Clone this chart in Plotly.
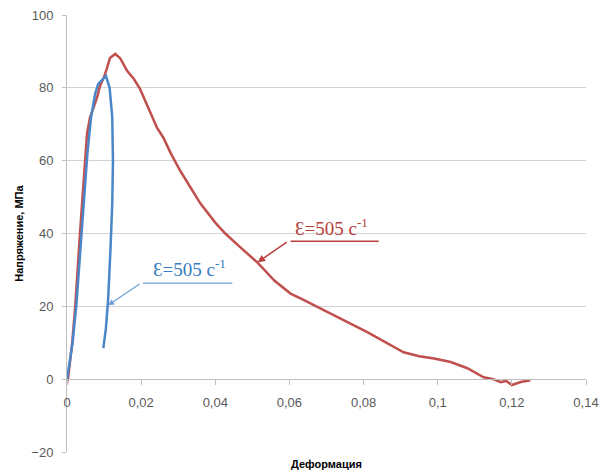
import plotly.graph_objects as go

# Red curve (strain, stress MPa)
red_x = [0, 0.0003, 0.0014, 0.0022, 0.0035, 0.0043, 0.0054, 0.0062, 0.0081, 0.0089, 0.0100,
         0.0108, 0.0116, 0.0130, 0.0143, 0.0162, 0.0180, 0.0197, 0.0220, 0.0243, 0.0260,
         0.0280, 0.0305, 0.0350, 0.0360, 0.0400, 0.0427, 0.0470, 0.0514, 0.0560, 0.0603,
         0.0630, 0.0692, 0.0746, 0.0810, 0.0865, 0.0908, 0.0950, 0.0990, 0.1035, 0.1080,
         0.1124, 0.1150, 0.1170, 0.1185, 0.1200, 0.1224, 0.1250]
red_y = [-1, 0.3, 9.9, 19.7, 40, 52.6, 67.4, 71.8, 77.3, 80.5, 83,
         85.5, 88.2, 89.3, 88.2, 84.7, 82.5, 79.7, 74.5, 69, 66.3,
         62, 57.3, 49.9, 48.2, 43, 40, 36, 32, 27, 23.5,
         22.2, 18.9, 16.2, 12.9, 9.9, 7.4, 6.3, 5.7, 4.7, 3,
         0.5, 0, -0.8, -0.5, -1.6, -0.8, -0.3]

# Blue curve
blue_x = [0, 0.0015, 0.0025, 0.0035, 0.0045, 0.0055, 0.0065, 0.0076, 0.0084, 0.0097, 0.0105,
          0.0115, 0.0122, 0.0124, 0.0122, 0.0117, 0.0111, 0.0105, 0.0098]
blue_y = [0, 10, 20, 35, 50, 62, 72, 78.4, 81, 82.5, 83.3,
          80, 72, 60, 48, 35, 22, 14, 8.5]

x_ticks = [0, 0.02, 0.04, 0.06, 0.08, 0.1, 0.12, 0.14]
x_tick_text = ["0", "0,02", "0,04", "0,06", "0,08", "0,1", "0,12", "0,14"]
y_ticks = [-20, 0, 20, 40, 60, 80, 100]

label_text = "Ɛ=505 с<sup>-1</sup>"
x_title = "Деформация"
y_title = "Напряжение, МПа"

RED = "#C0504D"
BLUE = "#4A86C8"
GRID = "#D3D3D3"
AXIS = "#BFBFBF"

fig = go.Figure()
fig.add_trace(go.Scatter(x=red_x, y=red_y, mode="lines",
                         line=dict(color=RED, width=2.5), showlegend=False))
fig.add_trace(go.Scatter(x=blue_x, y=blue_y, mode="lines",
                         line=dict(color=BLUE, width=2.5), showlegend=False))

fig.update_layout(
    width=611, height=472,
    margin=dict(l=67, r=25, t=15, b=20, autoexpand=False),
    paper_bgcolor="white", plot_bgcolor="white",
    font=dict(family="Liberation Sans, Arial, sans-serif", color="#595959", size=13),
    xaxis=dict(range=[0, 0.14], tickvals=x_ticks, ticktext=x_tick_text,
               showgrid=False, zeroline=False, showline=True, linecolor=AXIS, linewidth=1,
               ticks="outside", ticklen=5, tickcolor=AXIS, automargin=False,
               anchor="free", position=1/6, ticklabelstandoff=6),
    yaxis=dict(range=[-20, 100], tickvals=y_ticks, automargin=False,
               showgrid=True, gridcolor=GRID, gridwidth=1, zeroline=False,
               showline=True, linecolor=AXIS, linewidth=1,
               ticks="outside", ticklen=4, tickcolor=AXIS, ticklabelstandoff=6),
)

# Axis titles
fig.add_annotation(text="<b>" + x_title + "</b>", xref="paper", yref="paper",
                   x=0.5, y=-0.028, showarrow=False, yanchor="middle", xanchor="center",
                   font=dict(size=11, color="black", family="Liberation Sans, Arial, sans-serif"))
fig.add_annotation(text="<b>" + y_title + "</b>", xref="paper", yref="paper",
                   x=-0.094, y=0.5, textangle=-90, showarrow=False,
                   xanchor="center", yanchor="middle",
                   font=dict(size=11, color="black", family="Liberation Sans, Arial, sans-serif"))

serif = "Liberation Serif, Times New Roman, serif"
# Red label
fig.add_annotation(text=label_text, x=0.0714, y=41.8, xref="x", yref="y", showarrow=False,
                   font=dict(size=19, color="#B8403D", family=serif))
fig.add_shape(type="line", x0=0.0603, x1=0.0841, y0=37.9, y1=37.9, xref="x", yref="y",
              line=dict(color="#B8403D", width=1.5))
fig.add_annotation(x=0.0514, y=32.1, ax=0.0597, ay=37.9, xref="x", yref="y",
                   axref="x", ayref="y", showarrow=True, arrowhead=2, arrowsize=1,
                   arrowwidth=1.5, arrowcolor="#B8403D", text="")
# Blue label
fig.add_annotation(text=label_text, x=0.0331, y=30.6, xref="x", yref="y", showarrow=False,
                   font=dict(size=19, color="#3A7CC4", family=serif))
fig.add_shape(type="line", x0=0.0205, x1=0.0446, y0=26.4, y1=26.4, xref="x", yref="y",
              line=dict(color="#6E9FD4", width=1.2))
fig.add_annotation(x=0.0111, y=20.3, ax=0.0200, ay=26.4, xref="x", yref="y",
                   axref="x", ayref="y", showarrow=True, arrowhead=2, arrowsize=1,
                   arrowwidth=1.2, arrowcolor="#6E9FD4", text="")

fig.write_html("out.html", config={"displayModeBar": False},
               post_script="document.body.style.margin='0';document.body.style.overflow='hidden';")
